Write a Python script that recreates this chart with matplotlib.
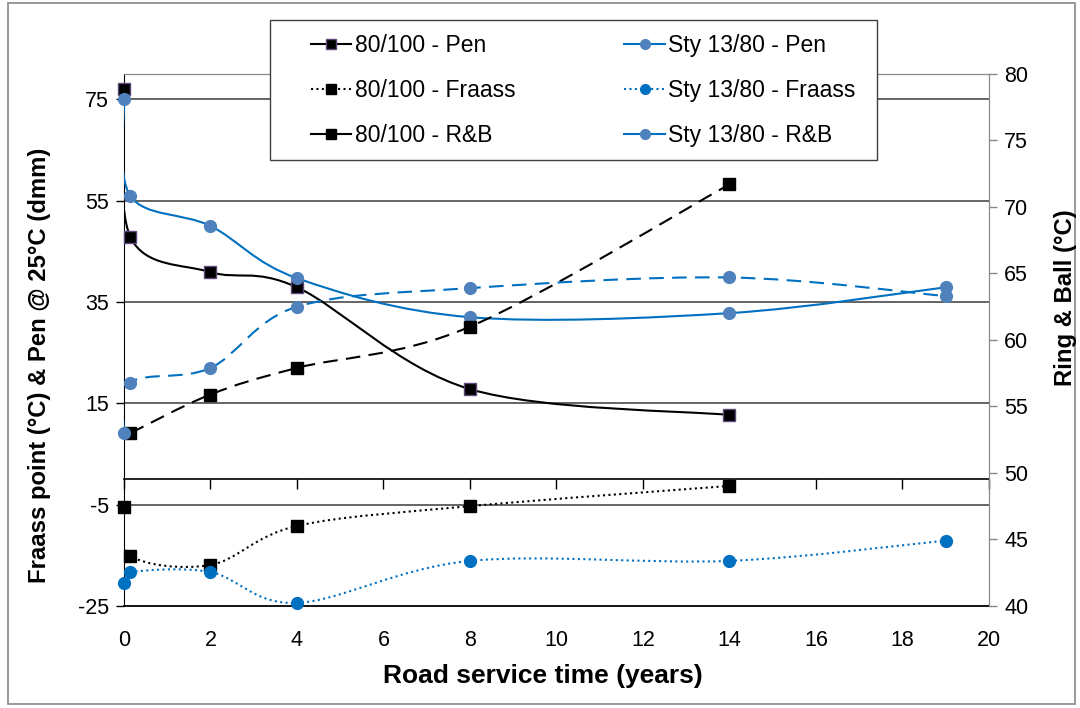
import numpy as np
import matplotlib
matplotlib.use("Agg")
import matplotlib.pyplot as plt
from matplotlib.path import Path
from matplotlib.patches import PathPatch, Rectangle
from matplotlib.lines import Line2D

plt.rcParams['font.family'] = ['Liberation Sans', 'DejaVu Sans']
plt.rcParams['axes.unicode_minus'] = False

# --- data ---
x_pen_8010 = [0, 0.15, 2, 4, 8, 14]
pen_8010 = [77, 47.8, 40.9, 37.9, 17.8, 12.7]
x_pen_sty = [0, 0.15, 2, 4, 8, 14, 19]
pen_sty = [75, 55.9, 50, 39.7, 32, 32.8, 37.9]

x_fraass_8010 = [0, 0.15, 2, 4, 8, 14]
fraass_8010 = [-5.5, -15.1, -16.9, -9.2, -5.3, -1.3]
x_fraass_sty = [0, 0.15, 2, 4, 8, 14, 19]
fraass_sty = [-20.4, -18.3, -18.3, -24.4, -16.1, -16.1, -12.1]

x_rb_8010 = [0.15, 2, 4, 8, 14]
rb_8010 = [53.0, 55.9, 57.9, 61.0, 71.7]
x_rb_sty = [0, 0.15, 2, 4, 8, 14, 19]
rb_sty = [53.0, 56.8, 57.9, 62.5, 63.9, 64.7, 63.3]

labels = ["80/100 - Pen", "Sty 13/80 - Pen", "80/100 - Fraass",
          "Sty 13/80 - Fraass", "80/100 - R&B", "Sty 13/80 - R&B"]
x_ticks = list(range(0, 21, 2))
left_ticks = [-25, -5, 15, 35, 55, 75]
right_ticks = list(range(40, 81, 5))

BLUE = '#0070C0'
LBLUE = '#4F81BD'
PURP = '#5F497A'


def smooth_path(xs, ys):
    # Excel-like smoothed line: cubic bezier through the points (Catmull-Rom)
    pts = np.column_stack([xs, ys]).astype(float)
    n = len(pts)
    verts = [pts[0]]
    codes = [Path.MOVETO]
    for i in range(n - 1):
        p0 = pts[max(i - 1, 0)]
        p1 = pts[i]
        p2 = pts[i + 1]
        p3 = pts[min(i + 2, n - 1)]
        verts += [p1 + (p2 - p0) / 6, p2 - (p3 - p1) / 6, p2]
        codes += [Path.CURVE4] * 3
    return Path(verts, codes)


def draw(ax, xs, ys, color, ls, marker, mfc, mec, ms=8.5):
    ax.add_patch(PathPatch(smooth_path(xs, ys), fill=False, edgecolor=color,
                           lw=1.5, linestyle=ls, zorder=3, capstyle='butt'))
    ax.plot(xs, ys, linestyle='none', marker=marker, ms=ms, mfc=mfc,
            mec=mec, mew=1.0, zorder=4, clip_on=False)


fig = plt.figure(figsize=(10.8, 7.08), dpi=100)
ax = fig.add_axes([0.1148, 0.1441, 0.8009, 0.7514])
ax2 = ax.twinx()

ax.set_xlim(0, 20)
ax.set_ylim(-25, 80)
ax2.set_ylim(40, 80)

# gridlines at left major ticks
for v in left_ticks[1:]:
    ax.axhline(v, color='#3a3a3a', lw=1.1, zorder=1)

dash = (0, (7, 4))
dots = (0, (1, 1.6))

draw(ax, x_pen_8010, pen_8010, 'black', '-', 's', 'black', PURP)
draw(ax, x_pen_sty, pen_sty, BLUE, '-', 'o', LBLUE, LBLUE)
draw(ax, x_fraass_8010, fraass_8010, 'black', dots, 's', 'black', 'black')
draw(ax, x_fraass_sty, fraass_sty, BLUE, dots, 'o', BLUE, BLUE)
draw(ax2, x_rb_8010, rb_8010, 'black', dash, 's', 'black', 'black')
draw(ax2, x_rb_sty, rb_sty, BLUE, dash, 'o', LBLUE, LBLUE)

# axes styling
ax.set_yticks(left_ticks)
ax.tick_params(axis='y', direction='out', length=6, width=1, labelsize=15.5,
               pad=5, color='black')
ax2.set_yticks(right_ticks)
ax2.tick_params(axis='y', direction='out', length=6, width=1, labelsize=15.5,
                pad=5, color='#888888')
ax.spines['left'].set_color('black')
ax.spines['bottom'].set_color('black')
ax.spines['bottom'].set_linewidth(1.3)
for s in ['top', 'right']:
    ax.spines[s].set_color('#888888')
    ax2.spines[s].set_color('#888888')
ax2.spines['left'].set_visible(False)
ax2.spines['bottom'].set_visible(False)

# x axis crosses at zero, labels stay low
ax.set_xticks(x_ticks)
ax.set_xticklabels([str(t) for t in x_ticks])
ax.tick_params(axis='x', length=0, labelsize=15.5, pad=17)
sec = ax.secondary_xaxis(0, transform=ax.transData)
sec.set_xticks(x_ticks)
sec.set_xticklabels([])
sec.tick_params(axis='x', direction='out', length=7, width=1, color='black')
sec.spines['bottom'].set_color('black')
sec.spines['bottom'].set_linewidth(1.2)

fig.text(0.037, 0.4845, 'Fraass point (°C) & Pen @ 25°C (dmm)', fontsize=17.2,
         fontweight='bold', rotation=90, ha='center', va='center')
fig.text(0.987, 0.579, 'Ring & Ball (°C)', fontsize=17.2, fontweight='bold',
         rotation=90, ha='center', va='center')
fig.text(0.503, 0.045, 'Road service time (years)', fontsize=19,
         fontweight='bold', ha='center', va='center')

# legend: frame drawn separately so the entries can sit like Excel's
fig.patches.append(Rectangle((0.25, 0.774), 0.562, 0.198, transform=fig.transFigure,
                             facecolor='white', edgecolor='#404040', lw=1.0,
                             zorder=5))
handles = [
    Line2D([], [], color='black', lw=1.5, marker='s', ms=7, mfc='black', mec=PURP),
    Line2D([], [], color='black', lw=1.5, ls=dots, marker='s', ms=7, mfc='black', mec='black'),
    Line2D([], [], color='black', lw=1.5, marker='s', ms=7, mfc='black', mec='black'),
    Line2D([], [], color=BLUE, lw=1.5, marker='o', ms=7, mfc=LBLUE, mec=LBLUE),
    Line2D([], [], color=BLUE, lw=1.5, ls=dots, marker='o', ms=7, mfc=BLUE, mec=BLUE),
    Line2D([], [], color=BLUE, lw=1.5, marker='o', ms=7, mfc=LBLUE, mec=LBLUE),
]
leg_labels = [labels[0], labels[2], labels[4], labels[1], labels[3], labels[5]]
leg = fig.legend(handles, leg_labels, ncol=2, loc='upper left',
                 bbox_to_anchor=(311 / 1080, 0.952), fontsize=16.5, frameon=False,
                 borderpad=0, labelspacing=0.96, handlelength=1.75,
                 handletextpad=0.17, columnspacing=4.75, borderaxespad=0)
leg.set_zorder(10)

# chart border
fig.patches.append(Rectangle((0.007, 0.006), 0.988, 0.99, transform=fig.transFigure,
                             fill=False, edgecolor='#888888', lw=1.2))

fig.savefig('out.png', dpi=100)
